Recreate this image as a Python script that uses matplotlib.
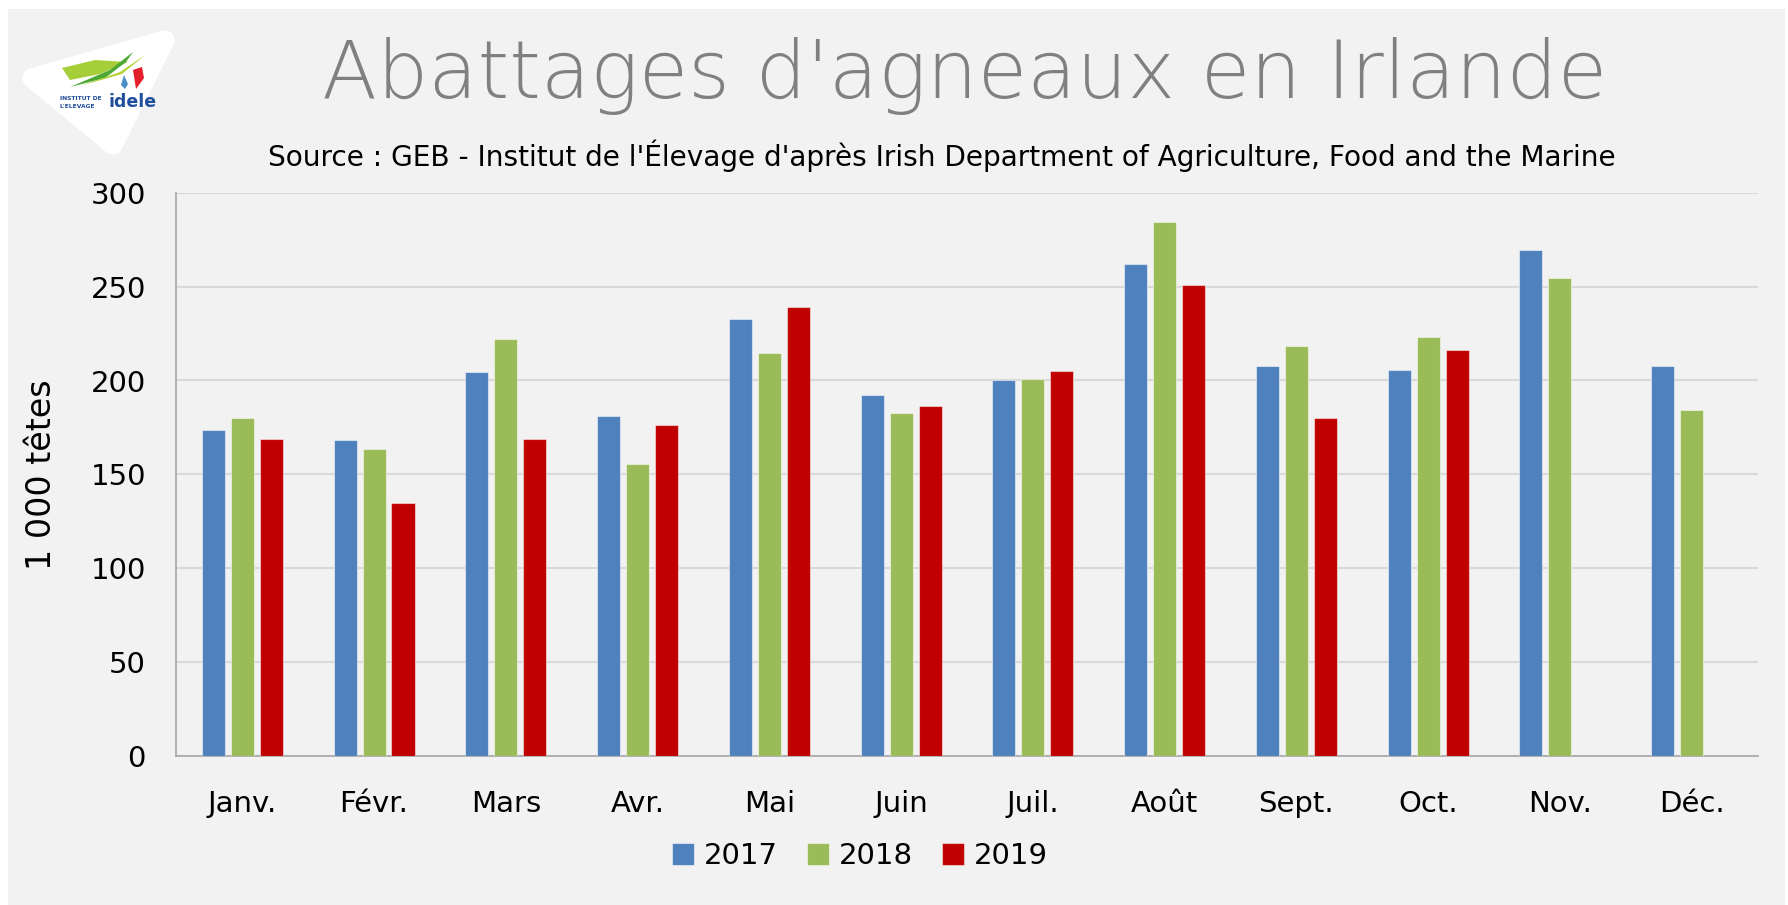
import numpy as np
import matplotlib
matplotlib.use("Agg")
import matplotlib.pyplot as plt
from matplotlib.patches import Polygon, Rectangle

# %%
months = ["Janv.", "Févr.", "Mars", "Avr.", "Mai", "Juin",
          "Juil.", "Août", "Sept.", "Oct.", "Nov.", "Déc."]
years = ["2017", "2018", "2019"]
v2017 = [173.7, 168.2, 204.7, 181.2, 232.9, 192.0, 200.0, 262.2, 207.8, 205.7, 269.8, 207.8]
v2018 = [180.2, 163.3, 222.0, 155.3, 214.5, 182.4, 200.8, 284.5, 218.2, 223.1, 254.9, 184.1]
v2019 = [168.6, 134.9, 168.6, 176.5, 239.0, 186.5, 205.3, 250.8, 180.2, 216.1, np.nan, np.nan]
series = [v2017, v2018, v2019]
colors = ["#4F81BD", "#9BBB59", "#C00000"]
yticks = [0, 50, 100, 150, 200, 250, 300]

title = "Abattages d'agneaux en Irlande"
subtitle = "Source : GEB - Institut de l'Élevage d'après Irish Department of Agriculture, Food and the Marine"

plt.rcParams['font.family'] = ['DejaVu Sans']

W, H = 1788, 905
fig = plt.figure(figsize=(W / 100, H / 100), dpi=100)
fig.patch.set_facecolor("white")

# background panel + logo, drawn in pixel coords
bg = fig.add_axes([0, 0, 1, 1], zorder=0)
bg.set_xlim(0, W)
bg.set_ylim(H, 0)
bg.axis("off")
bg.add_patch(Rectangle((8, 9), W - 11, H - 9, facecolor="#F2F2F2", edgecolor="none"))
# logo
bg.add_patch(Polygon([[32, 78], [165, 40], [113, 145]], closed=True, facecolor="white",
                     edgecolor="white", linewidth=14, joinstyle="round"))
bg.add_patch(Polygon([[62, 68], [95, 60], [128, 62], [100, 74], [70, 80]], closed=True,
                     facecolor="#A6CE39", edgecolor="none"))
bg.add_patch(Polygon([[70, 87], [110, 70], [133, 52], [126, 62], [105, 78]], closed=True,
                     facecolor="#4CA832", edgecolor="none"))
bg.add_patch(Polygon([[80, 86], [120, 72], [145, 55], [122, 74]], closed=True,
                     facecolor="#B5D334", edgecolor="none"))
bg.add_patch(Polygon([[133, 70], [142, 67], [144, 78], [136, 89]], closed=True,
                     facecolor="#E3202A", edgecolor="none"))
bg.add_patch(Polygon([[124, 75], [128, 84], [125, 89], [121, 85]], closed=True,
                     facecolor="#4A90C8", edgecolor="none"))
bg.text(60, 98, "INSTITUT DE", fontsize=4.3, fontweight="bold", color="#1F4E9C", va="center")
bg.text(60, 106, "L'ELEVAGE", fontsize=4.3, fontweight="bold", color="#1F4E9C", va="center")
bg.text(108, 102, "idele", fontsize=12.5, fontweight="bold", color="#1F4E9C", va="center")

# titles
bg.text(965, 76, title, fontsize=58, color="#808080", ha="center", va="center",
        fontweight="light")
bg.text(942, 156, subtitle, fontsize=20.2, color="black", ha="center", va="center")

# %%
ax = fig.add_axes([176.4 / W, 1 - 755.5 / H, (1757.5 - 176.4) / W, (755.5 - 193) / H], zorder=1)
ax.set_facecolor("none")
x = np.arange(len(months))
pitch, bw = 0.22, 0.175
for i, (vals, c, yr) in enumerate(zip(series, colors, years)):
    ax.bar(x + (i - 1) * pitch, vals, width=bw, color=c, edgecolor=(1, 1, 1, 0.5),
           linewidth=0.8, label=yr, zorder=3)

ax.set_xlim(-0.5, len(months) - 0.5)
ax.set_ylim(0, 300)
ax.set_yticks(yticks)
ax.set_xticks(x)
ax.set_xticklabels(months)
ax.tick_params(axis="both", length=0, labelsize=21, colors="black")
ax.tick_params(axis="y", pad=22)
ax.tick_params(axis="x", pad=25)
ax.grid(axis="y", color="#D9D9D9", linewidth=1.5, zorder=0)
for s in ["top", "right"]:
    ax.spines[s].set_visible(False)
ax.spines["left"].set_color("#A6A6A6")
ax.spines["bottom"].set_color("#A6A6A6")
ax.spines["left"].set_linewidth(1.2)
ax.spines["bottom"].set_linewidth(1.2)
ax.set_ylabel("1 000 têtes", fontsize=24)
ax.yaxis.set_label_coords(-0.075, 0.5)

leg = ax.legend(loc="center", bbox_to_anchor=(860 / W, 1 - 856 / H),
                bbox_transform=fig.transFigure, ncol=3, frameon=False,
                fontsize=21, handlelength=0.75, handleheight=0.75,
                handletextpad=0.35, columnspacing=1.0)

fig.savefig("out.png", dpi=100, facecolor=fig.get_facecolor())
